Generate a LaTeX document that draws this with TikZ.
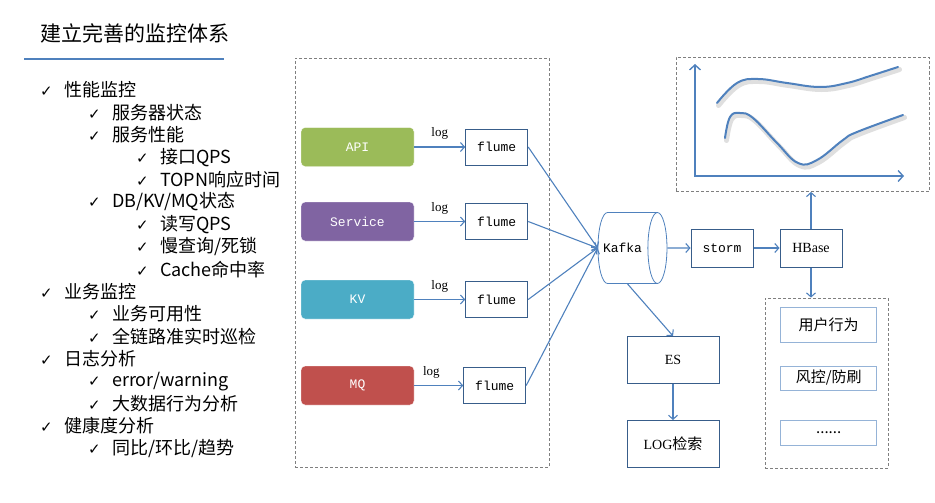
\documentclass[tikz,border=0pt]{standalone}
\usepackage{fontspec}
\setmainfont{Noto Sans CJK SC}
\setmonofont{Liberation Mono}
\newfontfamily\serifont{Liberation Serif}
\newfontfamily\cjkfont{Noto Sans CJK SC}
\newfontfamily\symfont{DejaVu Sans}
\usepackage{tikz}
\usetikzlibrary{shapes.geometric,arrows.meta,positioning}
\usepackage{xcolor}
\definecolor{lineblue}{HTML}{4F81BD}
\definecolor{boxblue}{HTML}{385D8A}
\definecolor{lightblue}{HTML}{95B3D7}
\definecolor{apigreen}{HTML}{9BBB59}
\definecolor{svcpurple}{HTML}{8064A2}
\definecolor{kvcyan}{HTML}{4BACC6}
\definecolor{mqred}{HTML}{C0504D}
\definecolor{dashgray}{HTML}{7F7F7F}
\newcommand{\chk}{\makebox[24pt][l]{\fontsize{15}{15}\symfont ✓}}

\begin{document}
\begin{tikzpicture}[x=1pt,y=-1pt,node distance=51pt,inner sep=0pt,
  item/.style={anchor=west,font=\fontsize{18}{20}\selectfont},
  srcbox/.style={draw=white,rounded corners=4pt,text=white,minimum width=113pt,minimum height=39pt,font=\fontsize{13}{15}\ttfamily},
  flumebox/.style={draw=boxblue,line width=1pt,fill=white,minimum width=62pt,minimum height=36pt,font=\fontsize{13}{15}\ttfamily},
  procbox/.style={draw=boxblue,line width=1pt,minimum width=62pt,minimum height=38pt},
  viewbox/.style={draw=lightblue,line width=1pt,minimum width=96pt,font=\fontsize{15}{17}\selectfont},
  groupbox/.style={draw=dashgray,dashed,dash pattern=on 3pt off 2pt,line width=0.8pt},
  arr/.style={-{Straight Barb[length=4pt,width=9pt]},draw=lineblue,line width=1.1pt},
  loglabel/.style={above=7pt,font=\fontsize{13}{15}\serifont},
  trend/.style={draw=lineblue,line width=2pt,line cap=round},
  trendshadow/.style={draw=black!25,line width=5pt,line cap=round,opacity=0.5,shift={(1.5,2.5)}}]
\useasboundingbox (0,0) rectangle (935,503);

\node[anchor=west,font=\fontsize{21}{24}\selectfont] (title) at (40,33) {建立完善的监控体系};
\draw[draw=lineblue,line width=2.5pt] (24,59) -- (224,59);

\node[item] (i1) at (40,90) {\chk 性能监控};
\node[item] (i2) at (88,112.4) {\chk 服务器状态};
\node[item] (i3) at (88,134.8) {\chk 服务性能};
\node[item] (i4) at (136,157.2) {\chk 接口QPS};
\node[item] (i5) at (136,179.6) {\chk TOPN响应时间};
\node[item] (i6) at (88,202) {\chk DB/KV/MQ状态};
\node[item] (i7) at (136,224.4) {\chk 读写QPS};
\node[item] (i8) at (136,246.8) {\chk 慢查询/死锁};
\node[item] (i9) at (136,269.2) {\chk Cache命中率};
\node[item] (i10) at (40,291.6) {\chk 业务监控};
\node[item] (i11) at (88,314) {\chk 业务可用性};
\node[item] (i12) at (88,336.4) {\chk 全链路准实时巡检};
\node[item] (i13) at (40,358.8) {\chk 日志分析};
\node[item] (i14) at (88,381.2) {\chk error/warning};
\node[item] (i15) at (88,403.6) {\chk 大数据行为分析};
\node[item] (i16) at (40,426) {\chk 健康度分析};
\node[item] (i17) at (88,448.4) {\chk 同比/环比/趋势};

\node[groupbox,minimum width=254pt,minimum height=409pt] (collect) at (422,262.5) {};
\node[srcbox,fill=apigreen] (api) at (357.5,147) {API};
\node[srcbox,fill=svcpurple] (svc) at (357.5,221.5) {Service};
\node[srcbox,fill=kvcyan] (kv) at (357.5,299.5) {KV};
\node[srcbox,fill=mqred] (mq) at (357.5,385.5) {MQ};
\node[flumebox,right=of api] (f1) {flume};
\node[flumebox,right=of svc] (f2) {flume};
\node[flumebox,right=of kv] (f3) {flume};
\node[flumebox,right=49pt of mq] (f4) {flume};
\draw[arr] (api) -- node[loglabel] (l1) {log} (f1);
\draw[arr] (svc) -- node[loglabel] (l2) {log} (f2);
\draw[arr] (kv) -- node[loglabel] (l3) {log} (f3);
\draw[arr] (mq) -- node[loglabel,pos=0.35] (l4) {log} (f4);

\node[cylinder,draw=lineblue,line width=0.8pt,aspect=2,minimum width=71pt,minimum height=69pt,font=\fontsize{13}{15}\ttfamily,
  label={[font=\fontsize{13}{15}\ttfamily,xshift=-5pt]center:Kafka}] (kafka) at (627.5,248) {\vphantom{Kafka}};
\draw[arr] (f1.east) -- (kafka.west); \draw[arr] (f2.east) -- (kafka.west);
\draw[arr] (f3.east) -- (kafka.west); \draw[arr] (f4.east) -- (kafka.west);

\node[procbox,font=\fontsize{13}{15}\ttfamily] (storm) at (722,248) {storm};
\node[procbox,font=\fontsize{14}{16}\serifont] (hbase) at (811,248) {HBase};
\node[procbox,minimum width=92pt,minimum height=47pt,font=\fontsize{14}{16}\serifont] (es) at (673,360) {ES};
\node[procbox,minimum width=92pt,minimum height=47pt,font=\fontsize{14}{16}\serifont] (logs) at (673,444) {LOG{\fontsize{15}{17}\cjkfont 检索}};
\draw[arr] (kafka) -- (storm); \draw[arr] (storm) -- (hbase);
\draw[arr] (kafka.south) -- (es.north); \draw[arr] (es) -- (logs);

\node[groupbox,minimum width=253pt,minimum height=134pt] (chart) at (802.5,124.5) {};
\coordinate (org) at (695,176);
\coordinate (ytop) at (695,64);
\coordinate (xend) at (904,176);
\draw[arr,{Straight Barb[length=5pt,width=11pt]}-{Straight Barb[length=5pt,width=11pt]},line width=1.4pt] (ytop) -- (org) -- (xend);
\draw[trendshadow] plot[smooth,tension=0.7] coordinates {(717,103) (737,83) (758,79) (787,83) (820,87) (847,83) (870,76) (898,67)};
\draw[trend] plot[smooth,tension=0.7] coordinates {(717,103) (737,83) (758,79) (787,83) (820,87) (847,83) (870,76) (898,67)};
\draw[trendshadow] plot[smooth,tension=0.7] coordinates {(725,138) (730,117) (740,113) (753,118) (777,143) (798,163) (817,160) (843,140) (857,132) (903,115)};
\draw[trend] plot[smooth,tension=0.7] coordinates {(725,138) (730,117) (740,113) (753,118) (777,143) (798,163) (817,160) (843,140) (857,132) (903,115)};
\draw[arr] (hbase.north) -- (hbase.north |- chart.south);

\node[groupbox,minimum width=123pt,minimum height=170pt] (apps) at (826.5,383) {};
\node[viewbox,minimum height=35pt] (user) at (828.7,324.5) {用户行为};
\node[viewbox,minimum height=24pt] (risk) at (828.7,378) {风控/防刷};
\node[viewbox,minimum height=25pt] (more) at (828.7,432.5) {......};
\draw[arr] (hbase.south) -- (hbase.south |- apps.north);
\end{tikzpicture}
\end{document}
